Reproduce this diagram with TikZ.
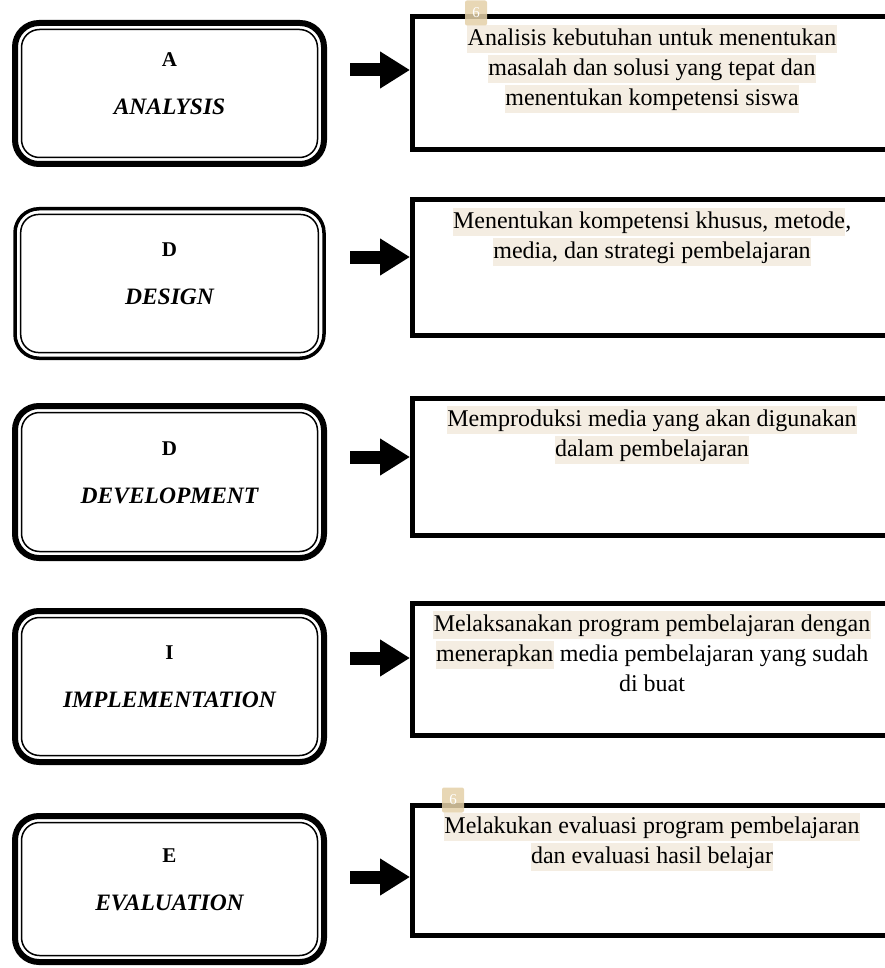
\documentclass[tikz,border=0pt]{standalone}
\usepackage{fontspec}
\setmainfont{Liberation Serif}
\usetikzlibrary{arrows.meta,positioning}
\definecolor{hlcolor}{RGB}{244,237,226}
\definecolor{notecolor}{RGB}{228,208,168}
\setlength{\fboxsep}{0.5pt}
\newcommand{\marked}[1]{\colorbox{hlcolor}{\rule[-7pt]{0pt}{27pt}#1}}
\tikzstyle{stage}=[draw,rounded corners=24pt,minimum width=309pt,inner sep=0pt,outer sep=0pt]
\tikzstyle{stageline}=[draw,line width=1.5pt,rounded corners=18pt]
\tikzstyle{key}=[inner sep=0pt,font=\fontsize{21}{24}\selectfont\bfseries]
\tikzstyle{phase}=[inner sep=0pt,font=\fontsize{23.5}{28}\selectfont\bfseries\itshape]
\tikzstyle{task}=[draw,line width=5pt,anchor=north west,inner sep=0pt,minimum width=520pt]
\tikzstyle{tasktext}=[align=center,anchor=north,inner sep=0pt,font=\fontsize{24}{30}\selectfont]
\tikzstyle{flow}=[line width=13pt,-{Triangle[length=30pt,width=35pt]}]
\tikzstyle{note}=[fill=notecolor,fill opacity=0.85,text opacity=1,text=white,rounded corners=2pt,minimum width=22pt,minimum height=25pt,inner sep=0pt,font=\fontsize{15}{15}\selectfont]

\begin{document}
\begin{tikzpicture}[x=1pt,y=-1pt]
    \useasboundingbox (0,0) rectangle (884,968);
    % First we draw the ADDIE stages on the left
    \foreach \i/\cy/\h/\lw/\gap/\l/\w in {1/93.5/147/6/6.5/A/ANALYSIS, 2/283.5/153/3.5/5.7/D/DESIGN, 3/482/158/6/6.5/D/DEVELOPMENT, 4/686.5/157/6/6.5/I/IMPLEMENTATION, 5/889/152/6/6.5/E/EVALUATION}
    {
        \node[stage,line width=\lw pt,minimum height=\h pt-\lw pt] (stage\i) at (169.5,\cy) {};
        \draw[stageline] ([shift={(\gap pt,-\gap pt)}]stage\i.north west) rectangle ([shift={(-\gap pt,\gap pt)}]stage\i.south east);
        \node[key] (key\i) at ([yshift=33.5pt]stage\i.center) {\l};
        \node[phase] (phase\i) at ([yshift=-13.5pt]stage\i.center) {\w};
    }
    % Then the boxes with the descriptions
    \foreach \i/\top/\h in {1/14.5/133, 2/197.5/135, 3/395.5/137, 4/600.5/132, 5/802.5/130}
        \node[task,minimum height=\h pt] (task\i) at (410,\top) {};
    % Connect stages with descriptions
    \foreach \i/\ay in {1/70, 2/257, 3/457, 4/658, 5/877}
    {
        \coordinate (from\i) at (350,\ay);
        \draw[flow] (from\i) -- (from\i -| task\i.west);
    }
    \node[tasktext] (text1) at (652,25) {\marked{Analisis kebutuhan untuk menentukan}\\\marked{masalah dan solusi yang tepat dan}\\\marked{menentukan kompetensi siswa}};
    \node[tasktext] (text2) at (652,208) {\marked{Menentukan kompetensi khusus, metode},\\\marked{media, dan strategi pembelajaran}};
    \node[tasktext] (text3) at (652,406) {\marked{Memproduksi media yang akan digunakan}\\\marked{dalam pembelajaran}};
    \node[tasktext] (text4) at (652,611) {\marked{Melaksanakan program pembelajaran dengan}\\\marked{menerapkan} media pembelajaran yang sudah\\di buat};
    \node[tasktext] (text5) at (652,813) {\marked{Melakukan evaluasi program pembelajaran}\\\marked{dan evaluasi hasil belajar}};
    % comment markers
    \node[note] (note1) at (476,13) {6};
    \node[note] (note5) at (453,800) {6};
\end{tikzpicture}
\end{document}
